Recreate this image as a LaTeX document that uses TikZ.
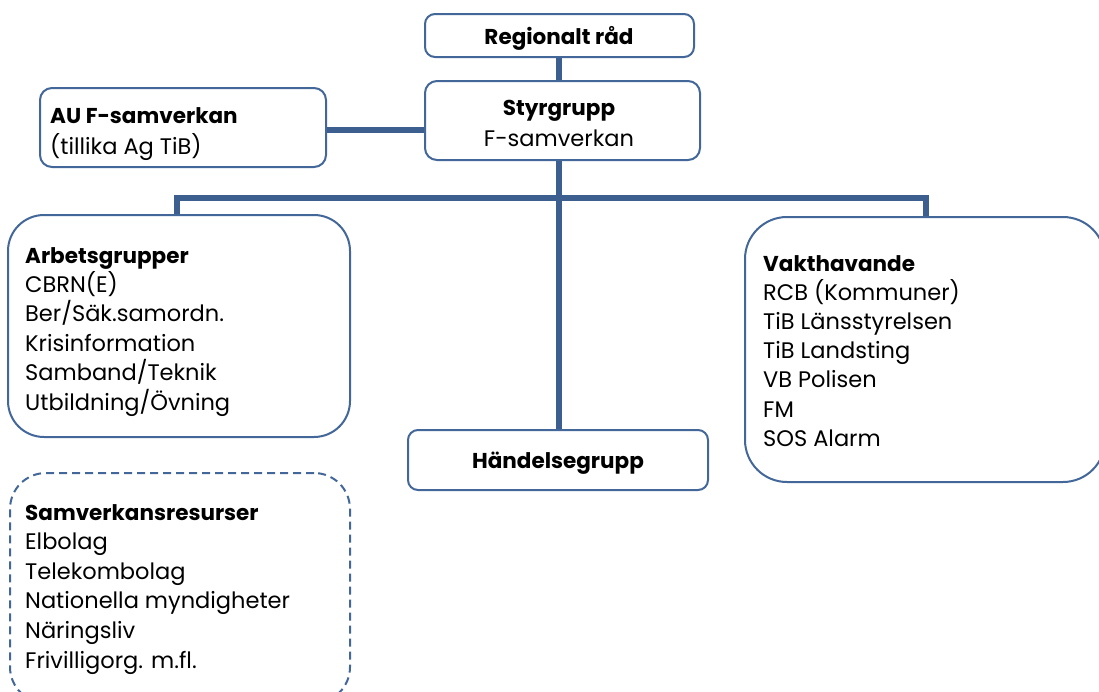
\documentclass[tikz,border=0pt]{standalone}
\usepackage{fontspec}
\setmainfont{Poppins}
\definecolor{lineblue}{RGB}{60,95,143}
\definecolor{boxblue}{RGB}{66,103,152}
\newcommand{\hd}[1]{{\fontsize{21.5}{24}\selectfont\bfseries #1}}
\begin{document}
\begin{tikzpicture}[x=1pt,y=-1pt,
  box/.style={draw=boxblue,line width=2pt,fill=white,rounded corners=#1,inner sep=0pt,outer sep=0pt,anchor=north west},
  box/.default=10pt,
  conn/.style={draw=lineblue,line width=6pt},
  txt/.style={inner sep=0pt,anchor=base west,font=\fontsize{22.5}{26}\selectfont},
  ctxt/.style={inner sep=0pt,anchor=base,font=\fontsize{22.5}{26}\selectfont}]
\useasboundingbox (0,0) rectangle (1099,691);
% connectors first
\coordinate (spineTop) at (559,160);
\coordinate (busL) at (177,197.5);
\coordinate (busR) at (925.5,197.5);
\coordinate (busM) at (559,197.5);
\coordinate (auR) at (326,129.5);
\coordinate (styL) at (425,129.5);
\draw[conn] (auR) -- (styL);
\draw[conn] (559,57) -- (559,81);
\draw[conn] (busL |- 0,218) -- (busL) -- (busR) -- (busR |- 0,219);
\draw[conn] (spineTop) -- (559,431);
% boxes
\node[box=10pt,minimum width=269pt,minimum height=43pt] (reg) at (425,14) {};
\node[box=12pt,minimum width=275pt,minimum height=79pt] (sty) at (425,81) {};
\node[box=12pt,minimum width=286pt,minimum height=79pt] (au) at (40,88) {};
\node[box=36pt,minimum width=342pt,minimum height=222pt] (arb) at (8,215) {};
\node[box=42pt,minimum width=360pt,minimum height=265pt] (vak) at (745,217) {};
\node[box=10pt,minimum width=300pt,minimum height=60pt] (hand) at (408,430) {};
\node[box=36pt,dashed,dash pattern=on 8pt off 5pt,minimum width=340pt,minimum height=230pt] (sam) at (10,473) {};
% texts
\node[ctxt] (regT) at (559,44) {\hd{Regionalt råd}};
\node[ctxt] (styT1) at (559,115) {\hd{Styrgrupp}};
\node[ctxt] (styT2) at (559,146) {F-samverkan};
\node[txt] (auT1) at (50,123) {\hd{AU F-samverkan}};
\node[txt] (auT2) at (50,154) {(tillika Ag TiB)};
\node[ctxt] (handT) at (558,468) {\hd{Händelsegrupp}};
\foreach \t [count=\i] in {\hd{Arbetsgrupper},CBRN(E),Ber/Säk.samordn.,Krisinformation,Samband/Teknik,Utbildning/Övning}
  \node[txt] (arbT\i) at (25,263+29.4*\i-29.4) {\t};
\foreach \t [count=\i] in {\hd{Vakthavande},RCB (Kommuner),TiB Länsstyrelsen,TiB Landsting,VB Polisen,FM,SOS Alarm}
  \node[txt] (vakT\i) at (763,271+29.2*\i-29.2) {\t};
\foreach \t [count=\i] in {\hd{Samverkansresurser},Elbolag,Telekombolag,Nationella myndigheter,Näringsliv,Frivilligorg. m.fl.}
  \node[txt] (samT\i) at (25,520+29.6*\i-29.6) {\t};
\end{tikzpicture}
\end{document}
